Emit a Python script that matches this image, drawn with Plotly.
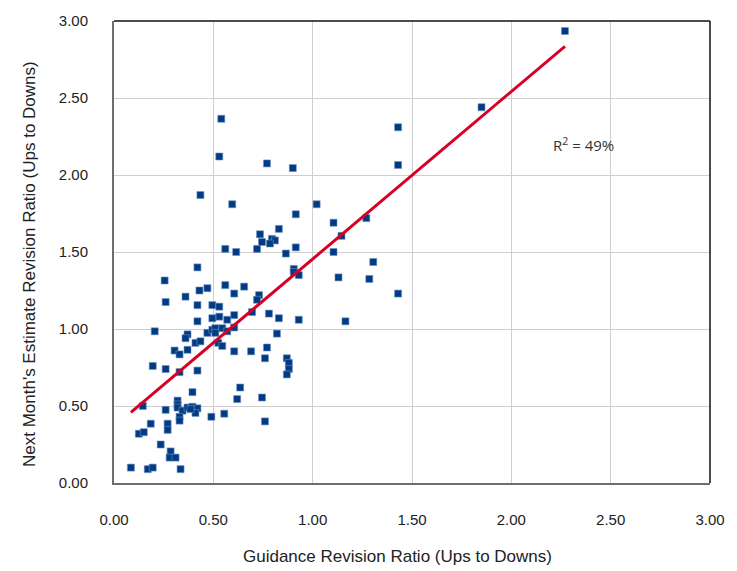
import numpy as np
import plotly.graph_objects as go

# Guidance revision ratio (x) vs next month's estimate revision ratio (y)
guidance_ratio = [
    2.27, 1.85, 1.43, 1.43, 1.43, 1.27, 1.305, 1.285, 1.145, 1.13,
    1.105, 1.105, 1.165, 1.02, 0.93,
    0.54, 0.53, 0.77, 0.90, 0.435, 0.595, 0.915, 0.83, 0.735, 0.745,
    0.795, 0.81, 0.785, 0.915, 0.72, 0.56, 0.615, 0.865, 0.905, 0.905,
    0.93, 0.42, 0.255, 0.655, 0.56, 0.47, 0.43, 0.605, 0.73, 0.72,
    0.36, 0.26, 0.42, 0.495, 0.53, 0.695, 0.78, 0.605, 0.53, 0.495,
    0.57, 0.42, 0.83,
    0.205, 0.37, 0.36, 0.47, 0.495, 0.51, 0.545, 0.57, 0.605, 0.51,
    0.82, 0.41, 0.435, 0.525, 0.545, 0.305, 0.33, 0.37, 0.605, 0.69,
    0.77, 0.76, 0.87, 0.88, 0.88, 0.87,
    0.195, 0.26, 0.33, 0.42, 0.395, 0.635, 0.62, 0.745, 0.76, 0.32,
    0.32, 0.32, 0.145, 0.26, 0.345, 0.37, 0.395, 0.42, 0.41, 0.385,
    0.33, 0.33, 0.49, 0.555, 0.185, 0.27, 0.27, 0.125, 0.15, 0.235,
    0.285, 0.28, 0.31, 0.085, 0.17, 0.195, 0.335,
]
estimate_ratio = [
    2.935, 2.44, 2.31, 2.065, 1.23, 1.72, 1.435, 1.325, 1.605, 1.335,
    1.69, 1.50, 1.05, 1.81, 1.06,
    2.365, 2.12, 2.075, 2.045, 1.87, 1.81, 1.745, 1.65, 1.615, 1.565,
    1.585, 1.575, 1.555, 1.53, 1.52, 1.52, 1.50, 1.49, 1.39, 1.37,
    1.35, 1.40, 1.315, 1.275, 1.285, 1.265, 1.25, 1.23, 1.22, 1.19,
    1.21, 1.175, 1.155, 1.155, 1.145, 1.11, 1.10, 1.09, 1.08, 1.07,
    1.06, 1.05, 1.07,
    0.985, 0.965, 0.94, 0.975, 0.995, 1.005, 1.005, 0.985, 1.01, 0.975,
    0.97, 0.91, 0.92, 0.91, 0.89, 0.86, 0.835, 0.865, 0.855, 0.855,
    0.88, 0.81, 0.81, 0.78, 0.74, 0.705,
    0.76, 0.74, 0.72, 0.73, 0.59, 0.62, 0.545, 0.555, 0.40, 0.535,
    0.51, 0.49, 0.50, 0.475, 0.47, 0.49, 0.495, 0.485, 0.455, 0.48,
    0.43, 0.405, 0.43, 0.45, 0.385, 0.385, 0.345, 0.32, 0.33, 0.25,
    0.205, 0.165, 0.165, 0.10, 0.09, 0.10, 0.09,
]

# Averages used as the crossing reference lines
guidance_avg = 0.61
estimate_avg = 1.02

axis_ticks = [0.0, 0.5, 1.0, 1.5, 2.0, 2.5, 3.0]
axis_ticktext = ["0.00", "0.50", "1.00", "1.50", "2.00", "2.50", "3.00"]
r2_label = "R<sup>2</sup> = 49%"

x = np.array(guidance_ratio)
y = np.array(estimate_ratio)
slope, intercept = np.polyfit(x, y, 1)
fit_x = np.array([x.min(), x.max()])
fit_y = slope * fit_x + intercept

label_font = "Liberation Sans, Arial, sans-serif"

fig = go.Figure()
fig.add_trace(go.Scatter(
    x=guidance_ratio, y=estimate_ratio, mode="markers",
    marker=dict(symbol="square", size=7, color="#003C84",
                line=dict(width=0.6, color="#6F8FBF")),
    hoverinfo="x+y", showlegend=False,
))
fig.add_trace(go.Scatter(
    x=fit_x, y=fit_y, mode="lines",
    line=dict(color="#D90026", width=3),
    hoverinfo="skip", showlegend=False,
))

axis_common = dict(
    range=[0, 3], tickvals=axis_ticks, ticktext=axis_ticktext,
    showgrid=True, gridcolor="#CFCFCF", gridwidth=1, zeroline=False,
    tickfont=dict(family=label_font, size=15, color="#222222"),
    showline=True, linecolor="#6E6E6E", linewidth=2, ticks="",
)

fig.update_layout(
    width=737, height=571,
    margin=dict(l=114, r=26, t=17, b=88),
    paper_bgcolor="white", plot_bgcolor="white",
    xaxis=dict(**axis_common, ticklabelstandoff=22),
    yaxis=dict(**axis_common, ticklabelstandoff=21),
    # crossing axes at the averages, with outward tick marks
    xaxis2=dict(range=[0, 3], overlaying="x", anchor="free",
                position=estimate_avg / 3, side="bottom",
                tickvals=axis_ticks, showticklabels=False, showgrid=False,
                zeroline=False, showline=True, linecolor="#111111",
                linewidth=1.5, ticks="outside", ticklen=5,
                tickcolor="#111111", tickwidth=1.5),
    yaxis2=dict(range=[0, 3], overlaying="y", anchor="free",
                position=guidance_avg / 3, side="left",
                tickvals=axis_ticks, showticklabels=False, showgrid=False,
                zeroline=False, showline=True, linecolor="#444444",
                linewidth=1.5, ticks="outside", ticklen=5,
                tickcolor="#111111", tickwidth=1.5),
    shapes=[
        dict(type="line", xref="paper", yref="paper", x0=0, x1=1, y0=1, y1=1,
             line=dict(color="#111111", width=1.5)),
        dict(type="line", xref="paper", yref="paper", x0=1, x1=1, y0=0, y1=1,
             line=dict(color="#111111", width=1.5)),
    ],
    annotations=[
        dict(text=r2_label, x=2.2, y=2.2, xref="x", yref="y",
             xanchor="left", yanchor="middle", showarrow=False,
             font=dict(family="Open Sans, sans-serif", size=15, color="#333333")),
        dict(text="Guidance Revision Ratio (Ups to Downs)",
             x=398, y=571 - 557, xref="paper", yref="paper",
             xanchor="center", yanchor="middle",
             showarrow=False, font=dict(family=label_font, size=17, color="#222222")),
        dict(text="Next Month's Estimate Revision Ratio (Ups to Downs)",
             x=30, y=571 - 262, xref="paper", yref="paper", textangle=-90,
             xanchor="center", yanchor="middle",
             showarrow=False, font=dict(family=label_font, size=17, color="#222222")),
    ],
)

# place title annotations in pixel terms relative to the plot area
pw, ph = 737 - 114 - 26, 571 - 17 - 88
for ann in fig.layout.annotations[1:]:
    ann.x = (ann.x - 114) / pw
    ann.y = (ann.y - 88) / ph

fig.write_html("out.html")
